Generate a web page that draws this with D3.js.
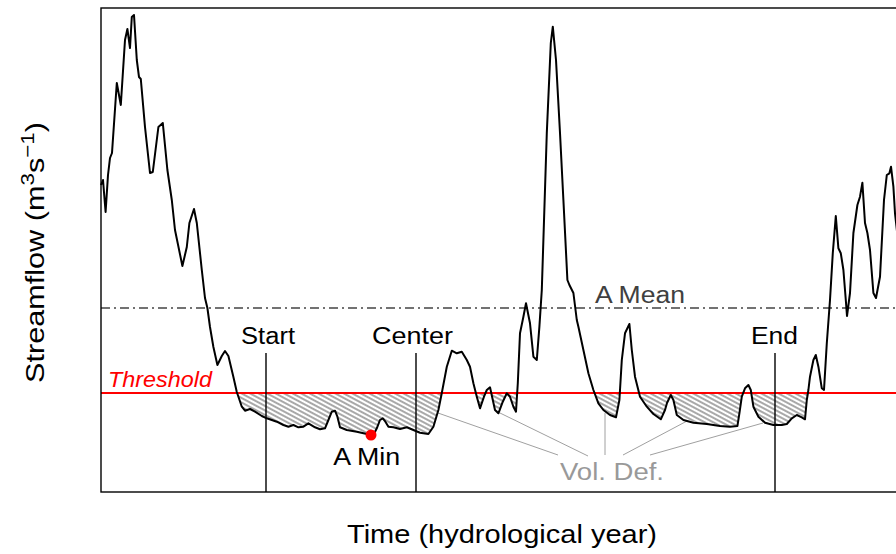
<!DOCTYPE html>
<html><head><meta charset="utf-8">
<script src="https://cdn.jsdelivr.net/npm/d3@7"></script>
<style>body{margin:0;background:#fff}svg{display:block}text{font-family:"Liberation Sans",Arial,Helvetica,sans-serif}</style>
</head><body><svg id="c" width="896" height="554"></svg>
<script>
// ---- data (time in days of the hydrological year, flow in m3/s) ----
const days = [0,1,2.3,3.5,4.5,5.5,7.9,9.9,12,13.2,14.5,15.4,16.5,17.9,19,19.9,22,24.5,25.9,28.7,30.9,33.2,35.4,37,40.7,42.9,44.2,46.5,47.9,50.4,52,53.2,54.5,56.2,58.2,60.4,62,63.7,66.2,67.9,70.4,72,74.5,77,80.4,82.9,87.9,91.2,93.7,96.2,98.7,101.2,103.7,107,109.5,112,113.7,115.4,117,118.2,119.5,122.9,127.9,132.9,135,136.2,137.9,139.5,140.9,142.2,143.7,146.2,149.5,152.9,156.2,159.5,163.7,166.2,168.7,170.4,172.9,175.4,177.9,180.4,182.9,184.5,186.2,187.9,189.5,191.5,192.9,194.5,195.9,197,198.7,200.9,202.9,204.5,206.2,207.5,208.4,209.5,211.2,212.5,214.5,216.2,217.9,219.2,220.4,222.9,224.9,225.9,227.5,229.5,231.2,233.2,234.2,236.2,237.9,238.7,241.2,243.7,246.2,248.7,251.2,254.5,257.5,259.2,260.4,262,264.2,265.4,267,269.5,272.9,276.2,279.9,282,283,284.9,286.2,287.9,291.2,296.2,302.9,309.5,314.5,318.2,319.2,320.4,322,323.7,324.9,326.2,328.7,332,336.2,340.4,342.9,345.4,347.9,350.4,352,352.9,353.7,354.5,356.2,357.4,358.7,360.4,361.5,362.9,364.5,365.9,367.4,368.7,369.9,371.2,372.4,373,374.5,376.2,378.2,379.5,380.7,382,383.2,384.5,386.2,387.5,389.5,391.5,392.9,394.2,395,396.2,397,398.5];
const flows = [30.7,31.2,28.0,31.7,33.4,33.9,40.9,38.7,45.2,46.3,44.4,47.5,47.7,43.2,41.5,41.3,36.5,31.9,32.0,36.5,36.9,32.2,29.2,26.2,22.6,24.5,26.9,28.3,26.9,22.2,19.4,18.4,16.5,14.5,12.7,13.6,14.1,13.6,11.5,10.0,8.53,8.13,8.3,8.03,7.6,7.37,7.03,6.7,6.53,6.7,6.47,6.53,6.87,6.47,6.27,6.37,7.2,8.03,8.13,7.53,6.47,6.2,6.03,5.8,5.7,5.7,6.37,7.2,7.37,7.03,6.53,6.47,6.3,6.47,6.2,5.93,5.8,6.53,8.2,9.9,12.53,14.13,13.87,14.03,13.2,12.53,10.87,9.53,8.37,9.53,10.2,10.47,9.2,8.2,7.87,9.03,9.87,9.53,8.53,8.03,10.87,15.87,17.53,18.87,16.87,13.53,13.2,16.53,20.2,35.9,44.9,46.53,43.2,35.9,29.2,21.2,20.7,19.9,17.2,16.53,14.2,11.87,10.2,8.87,8.2,7.7,7.47,9.2,13.2,15.87,16.8,14.2,11.53,9.53,8.53,7.8,7.27,8.2,8.9,9.7,9.2,7.7,7.2,6.93,6.8,6.6,6.53,6.6,7.87,9.53,10.37,10.7,10.2,8.53,7.53,6.93,6.7,6.7,6.8,7.37,7.7,7.47,7.27,9.2,10.2,11.53,13.2,13.7,12.53,10.37,10.2,14.87,19.2,23.9,27.6,24.37,23.87,22.2,19.2,17.6,19.9,25.9,28.7,29.53,30.93,26.9,25.9,24.2,19.9,19.4,21.53,29.2,31.7,31.87,32.53,30.53,27.87,25.2];
const threshold = 9.9;
const meanFlow = 18.4;
const eventDays = [82.5, 157.5, 337];
const eventLabels = ["Start", "Center", "End"];
const minDay = 135, minFlow = 5.7;
// Vol. Def. connector lines (label end -> deficit area)
const volFromDays = [228.5, 243.5, 252, 261, 274.5];
const volFromFlows = [3.7, 3.6, 3.7, 3.7, 3.7];
const volToDays = [168.5, 199.5, 252, 293, 331];
const volToFlows = [7.9, 7.9, 7.9, 7.1, 6.9];

// ---- scales ----
const x = d3.scaleLinear().domain([0, 400]).range([101, 901]);
const y = d3.scaleLinear().domain([0, 48.4]).range([492, 8]);
const svg = d3.select("#c");

const defs = svg.append("defs");
const pat = defs.append("pattern").attr("id", "hatch").attr("patternUnits", "userSpaceOnUse")
  .attr("width", 10).attr("height", 4).attr("patternTransform", "rotate(28)");
pat.append("line").attr("x1", 0).attr("x2", 10).attr("y1", 2).attr("y2", 2)
  .attr("stroke", "#6e6e6e").attr("stroke-width", 1.2);

// deficit polygons
const pts = days.map((d, i) => ({t: d, v: flows[i]}));
const polys = []; let cur = null;
for (let i = 0; i < pts.length; i++) {
  const p = pts[i], below = p.v < threshold;
  if (i > 0) {
    const q = pts[i - 1], qb = q.v < threshold;
    if (below !== qb) {
      const f = (threshold - q.v) / (p.v - q.v);
      const c = {t: q.t + f * (p.t - q.t), v: threshold};
      if (below) cur = [c]; else { cur.push(c); polys.push(cur); cur = null; }
    }
  } else if (below) cur = [{t: p.t, v: threshold}];
  if (below) cur.push(p);
}
if (cur) { cur.push({t: cur[cur.length - 1].t, v: threshold}); polys.push(cur); }
const polyLine = d3.line().x(d => x(d.t)).y(d => y(d.v));
svg.append("g").selectAll("path").data(polys).join("path")
  .attr("d", d => polyLine(d) + "Z").attr("fill", "url(#hatch)").attr("stroke", "none");

// mean line
svg.append("line").attr("x1", x(0)).attr("x2", x(402)).attr("y1", y(meanFlow)).attr("y2", y(meanFlow))
  .attr("stroke", "#444").attr("stroke-width", 1.4).attr("stroke-dasharray", "9,4,2,4");
// threshold line
svg.append("line").attr("x1", x(0)).attr("x2", x(402)).attr("y1", y(threshold)).attr("y2", y(threshold))
  .attr("stroke", "#ff0000").attr("stroke-width", 2);

// event lines
svg.append("g").selectAll("line").data(eventDays).join("line")
  .attr("x1", d => x(d)).attr("x2", d => x(d)).attr("y1", y(13.9)).attr("y2", y(0))
  .attr("stroke", "#000").attr("stroke-width", 1.4);

// vol def connectors
svg.append("g").selectAll("line").data(volFromDays).join("line")
  .attr("x1", (d, i) => x(d)).attr("y1", (d, i) => y(volFromFlows[i]))
  .attr("x2", (d, i) => x(volToDays[i])).attr("y2", (d, i) => y(volToFlows[i]))
  .attr("stroke", "#a0a0a0").attr("stroke-width", 1);

// flow line
svg.append("path").datum(pts).attr("d", polyLine).attr("fill", "none")
  .attr("stroke", "#000").attr("stroke-width", 2).attr("stroke-linejoin", "round");

// min point
svg.append("circle").attr("cx", x(minDay)).attr("cy", y(minFlow)).attr("r", 5.5).attr("fill", "#ff0000");

// box
svg.append("rect").attr("x", x(0)).attr("y", y(48.4)).attr("width", x(404) - x(0)).attr("height", y(0) - y(48.4))
  .attr("fill", "none").attr("stroke", "#000").attr("stroke-width", 1.4);

// text helper
function txt(s, px, py, size, len, opts = {}) {
  const t = svg.append("text").attr("x", px).attr("y", py).attr("font-size", size)
    .attr("text-anchor", opts.anchor || "middle").attr("fill", opts.fill || "#000")
    .attr("textLength", len).attr("lengthAdjust", "spacingAndGlyphs").text(s);
  if (opts.italic) t.attr("font-style", "italic");
  return t;
}
const labelShift = [2, -3.5, -0.5];
eventDays.forEach((d, i) => txt(eventLabels[i], x(d) + labelShift[i], y(14.8), 23, [54, 81, 47][i]));
txt("A Min", x(132.85), y(2.7), 23, 67);
txt("A Mean", x(269.5), y(18.9), 23, 90, {fill: "#404040"});
txt("Threshold", x(3.5), y(10.5), 22, 104, {anchor: "start", fill: "#ff0000", italic: true});
txt("Vol. Def.", x(255.5), y(1.2), 23, 104, {fill: "#999"});
txt("Time (hydrological year)", 502, 543, 26, 310);

// y title with superscripts
const yt = svg.append("text").attr("font-size", 26).attr("text-anchor", "middle").attr("fill", "#000");
yt.append("tspan").text("Streamflow (m");
yt.append("tspan").attr("baseline-shift", "super").attr("font-size", 19).text("3");
yt.append("tspan").text("s");
yt.append("tspan").attr("baseline-shift", "super").attr("font-size", 19).text("\u22121");
yt.append("tspan").text(")");
const w = yt.node().getBBox().width;
const k = 261 / w;
yt.attr("transform", `translate(44,252.5) rotate(-90) scale(${k},1)`);
</script></body></html>
